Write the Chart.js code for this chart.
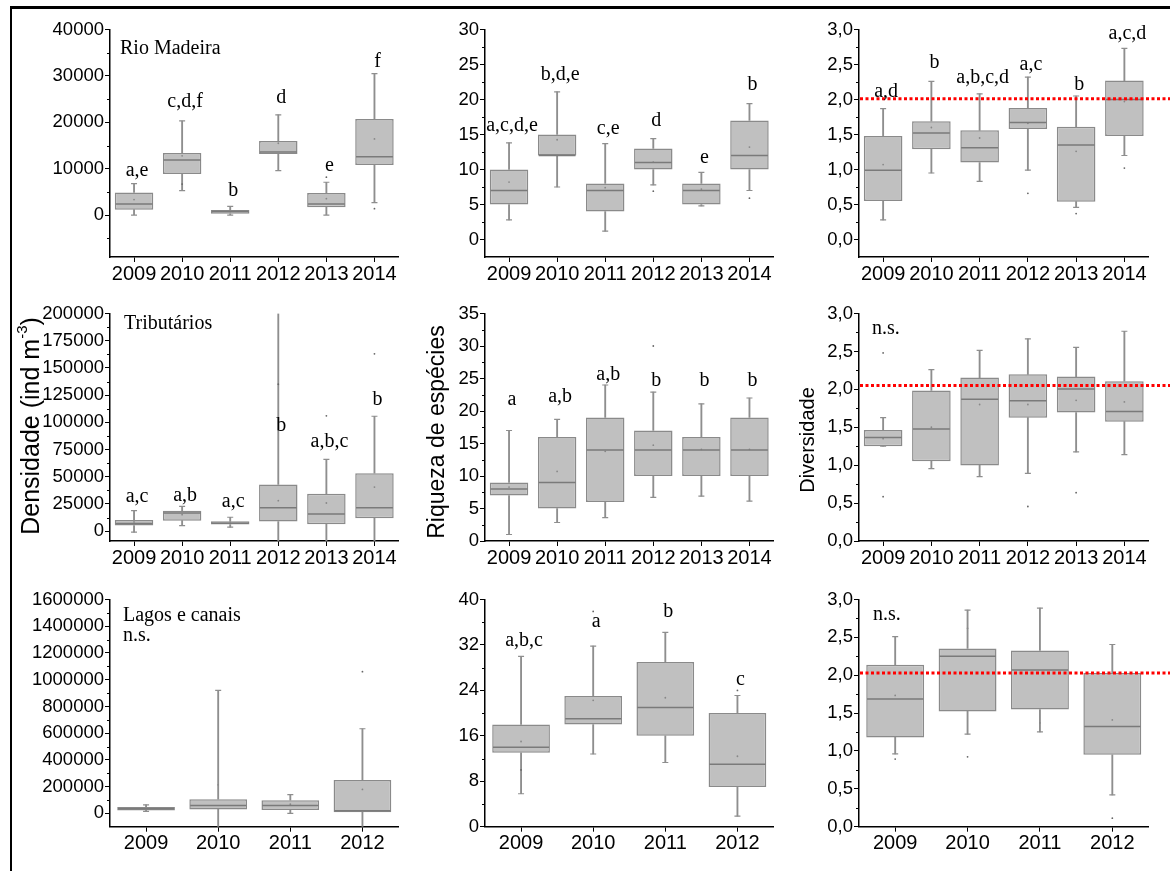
<!DOCTYPE html>
<html><head><meta charset="utf-8">
<script src="https://cdn.jsdelivr.net/npm/chart.js@4.4.0/dist/chart.umd.min.js"></script>
<style>
html,body{margin:0;padding:0;background:#fff;}
#wrap{position:relative;width:1170px;height:871px;overflow:hidden;background:#fff;}
#frame{position:absolute;left:10px;top:6px;width:1200px;height:900px;border-top:3px solid #000;border-left:2px solid #000;}
canvas{position:absolute;}
</style></head><body><div id="wrap"><div id="frame"></div></div>
<script>
// ---------- categories ----------
const years6 = ['2009','2010','2011','2012','2013','2014'];
const years4 = ['2009','2010','2011','2012'];

// ---------- Rio Madeira: densidade ----------
const rmDensQ1  = [1200, 8900, 300, 13200, 1700, 10800];
const rmDensQ3  = [4900, 13400, 1100, 16000, 4800, 20700];
const rmDensMed = [2400, 11900, 800, 13600, 2400, 12600];
const rmDensLo  = [0, 5300, 0, 9600, 0, 2700];
const rmDensHi  = [6800, 20300, 1900, 21600, 7100, 30500];
const rmDensMean = [3360, 12790, 800, 15500, 3570, 16430];
const rmDensOut = [{x:'2010',y:6700},{x:'2013',y:8200},{x:'2014',y:1400}];
const rmDensLetters = ['a,e','c,d,f','b','d','e','f'];
const rmDensLetterY = [8430, 23360, 4070, 24070, 9500, 32000];
const rmDensTicks = [0, 10000, 20000, 30000, 40000];
const rmDensMinor = [-5000, 5000, 15000, 25000, 35000];

// ---------- Rio Madeira: riqueza ----------
const rmRiqQ1  = [5, 12, 4, 10, 5, 10];
const rmRiqQ3  = [10, 15, 8, 13, 8, 17];
const rmRiqMed = [7, 12, 7, 11, 7, 12];
const rmRiqLo  = [2.8, 7.5, 1.2, 7.8, 4.8, 7];
const rmRiqHi  = [13.8, 21.1, 13.7, 14.4, 9.6, 19.4];
const rmRiqMean = [8.2, 14.25, 7.4, 11.05, 7.2, 13.2];
const rmRiqOut = [{x:'2012',y:6.9},{x:'2014',y:5.9}];
const rmRiqLetters = ['a,c,d,e','b,d,e','c,e','d','e','b'];
const rmRiqLetterY = [15.5, 22.8, 15.1, 16.2, 10.95, 21.3];
const rmRiqTicks = [0, 5, 10, 15, 20, 25, 30];
const rmRiqMinor = [2.5, 7.5, 12.5, 17.5, 22.5, 27.5];

// ---------- Rio Madeira: diversidade ----------
const rmDivQ1  = [0.55, 1.29, 1.10, 1.58, 0.54, 1.48];
const rmDivQ3  = [1.48, 1.69, 1.56, 1.88, 1.61, 2.27];
const rmDivMed = [0.99, 1.52, 1.31, 1.67, 1.35, 2.00];
const rmDivLo  = [0.28, 0.95, 0.83, 0.99, 0.46, 1.20];
const rmDivHi  = [1.87, 2.26, 2.08, 2.32, 2.05, 2.73];
const rmDivMean = [1.07, 1.60, 1.45, 1.66, 1.26, 1.97];
const rmDivOut = [{x:'2012',y:0.66},{x:'2013',y:0.37},{x:'2014',y:1.02}];
const rmDivLetters = ['a,d','b','a,b,c,d','a,c','b','a,c,d'];
const rmDivLetterY = [2.035, 2.45, 2.233, 2.42, 2.13, 2.86];
const rmDivRef = 2.01;

// ---------- Tributários: densidade ----------
const trDensQ1  = [5200, 9700, 6100, 8800, 6400, 11900];
const trDensQ3  = [10400, 18900, 9100, 42900, 34400, 53300];
const trDensMed = [7000, 16700, 7300, 21600, 15800, 21600];
const trDensLo  = [-900, 5200, 3700, -9000, -9000, -9000];
const trDensHi  = [18900, 22800, 12800, 200000, 66000, 105600];
const trDensMean = [8500, 15200, 7500, 28000, 25900, 40500];
const trDensOut = [{x:'2012',y:135000},{x:'2013',y:106000},{x:'2014',y:163000}];
const trDensLetters = ['a,c','a,b','a,c','b','a,b,c','b'];
const trDensLetterY = [27100, 28000, 22500, 91900, 77300, 115700];
const trDensTicks = [0, 25000, 50000, 75000, 100000, 125000, 150000, 175000, 200000];
const trDensMinor = [12500, 37500, 62500, 87500, 112500, 137500, 162500, 187500];

// ---------- Tributários: riqueza ----------
const trRiqQ1  = [7, 5, 6, 10, 10, 10];
const trRiqQ3  = [9, 16, 19, 17, 16, 19];
const trRiqMed = [8, 9, 14, 14, 14, 14];
const trRiqLo  = [1.0, 2.85, 3.6, 6.7, 6.9, 6.15];
const trRiqHi  = [17, 18.7, 24, 22.9, 21.1, 22];
const trRiqMean = [8.3, 10.7, 13.8, 14.75, 14.1, 14.1];
const trRiqOut = [{x:'2012',y:30}];
const trRiqLetters = ['a','a,b','a,b','b','b','b'];
const trRiqLetterY = [21.0, 21.4, 24.8, 23.9, 23.9, 23.9];
const trRiqTicks = [0, 5, 10, 15, 20, 25, 30, 35];
const trRiqMinor = [2.5, 7.5, 12.5, 17.5, 22.5, 27.5, 32.5];

// ---------- Tributários: diversidade ----------
const trDivQ1  = [1.25, 1.053, 0.997, 1.626, 1.695, 1.574];
const trDivQ3  = [1.465, 1.985, 2.155, 2.198, 2.168, 2.107];
const trDivMed = [1.365, 1.478, 1.868, 1.851, 2.003, 1.708];
const trDivLo  = [1.25, 0.954, 0.85, 0.893, 1.175, 1.14];
const trDivHi  = [1.626, 2.26, 2.514, 2.666, 2.553, 2.766];
const trDivMean = [1.35, 1.50, 1.80, 1.80, 1.855, 1.834];
const trDivOut = [{x:'2009',y:0.585},{x:'2009',y:2.48},{x:'2012',y:0.455},{x:'2013',y:0.637}];
const trDivRef = 2.05;

// ---------- Lagos e canais: densidade ----------
const lcDensQ1  = [22000, 29400, 24500, 7400];
const lcDensQ3  = [46600, 105500, 98200, 250000];
const lcDensMed = [34400, 58900, 58900, 19600];
const lcDensLo  = [14700, -100000, 0, -100000];
const lcDensHi  = [63800, 920000, 140000, 633000];
const lcDensMean = [35000, 213000, 68700, 179000];
const lcDensOut = [{x:'2012',y:1060000}];
const lcDensTicks = [0, 200000, 400000, 600000, 800000, 1000000, 1200000, 1400000, 1600000];
const lcDensMinor = [100000, 300000, 500000, 700000, 900000, 1100000, 1300000, 1500000];

// ---------- Lagos e canais: riqueza ----------
const lcRiqQ1  = [13, 18, 16, 7];
const lcRiqQ3  = [18, 23, 29, 20];
const lcRiqMed = [14, 19, 21, 11];
const lcRiqLo  = [5.8, 12.8, 11.3, 1.85];
const lcRiqHi  = [30, 31.8, 34.2, 23.1];
const lcRiqMean = [15, 22.25, 22.7, 12.4];
const lcRiqOut = [{x:'2009',y:10},{x:'2010',y:37.9},{x:'2012',y:24}];
const lcRiqLetters = ['a,b,c','a','b','c'];
const lcRiqLetterY = [31.9, 35.1, 37.0, 25.0];
const lcRiqTicks = [0, 8, 16, 24, 32, 40];
const lcRiqMinor = [4, 12, 20, 28, 36];

// ---------- Lagos e canais: diversidade ----------
const lcDivQ1  = [1.179, 1.522, 1.548, 0.949];
const lcDivQ3  = [2.137, 2.354, 2.328, 2.029];
const lcDivMed = [1.686, 2.25, 2.068, 1.322];
const lcDivLo  = [0.962, 1.223, 1.253, 0.42];
const lcDivHi  = [2.51, 2.861, 2.887, 2.406];
const lcDivMean = [1.734, 2.62, 1.37, 1.41];
const lcDivOut = [{x:'2009',y:0.893},{x:'2010',y:0.923},{x:'2012',y:0.113}];
const lcDivRef = 2.03;

const divTicks = [0, 0.5, 1.0, 1.5, 2.0, 2.5, 3.0];
const divMinor = [0.25, 0.75, 1.25, 1.75, 2.25, 2.75];

// ---------- layout ----------
const SANS = "'Liberation Sans', Arial, sans-serif";
const SERIF = "'Liberation Serif', 'Times New Roman', serif";
const cols = [{cl:12, cr:420, ax:110, ar:414},{cl:420, cr:795, ax:485, ar:789},{cl:795, cr:1170, ax:859, ar:1163}];
const rows = [{ct:8, cb:290, at:27, ab:257},{ct:292, cb:575, at:311.5, ab:541},{ct:578, cb:866, at:596, ab:826.7}];

const fmtInt = v => String(v);
const fmtDec = v => v.toFixed(1).replace('.', ',');

const panels = [
  {r:0,c:0, labels:years6, q1:rmDensQ1,q3:rmDensQ3,med:rmDensMed,lo:rmDensLo,hi:rmDensHi,mean:rmDensMean,out:rmDensOut,
   letters:rmDensLetters, letterY:rmDensLetterY, ticks:rmDensTicks, minor:rmDensMinor, min:-9000, max:40000, fmt:fmtInt,
   notes:[{t:'Rio Madeira', dx:10, dy:24.7}]},
  {r:0,c:1, labels:years6, q1:rmRiqQ1,q3:rmRiqQ3,med:rmRiqMed,lo:rmRiqLo,hi:rmRiqHi,mean:rmRiqMean,out:rmRiqOut,
   letters:rmRiqLetters, letterY:rmRiqLetterY, ticks:rmRiqTicks, minor:rmRiqMinor, min:-2.5, max:30, fmt:fmtInt, notes:[]},
  {r:0,c:2, labels:years6, q1:rmDivQ1,q3:rmDivQ3,med:rmDivMed,lo:rmDivLo,hi:rmDivHi,mean:rmDivMean,out:rmDivOut,
   letters:rmDivLetters, letterY:rmDivLetterY, ticks:divTicks, minor:divMinor, min:-0.25, max:3, fmt:fmtDec, ref:rmDivRef, notes:[]},
  {r:1,c:0, labels:years6, q1:trDensQ1,q3:trDensQ3,med:trDensMed,lo:trDensLo,hi:trDensHi,mean:trDensMean,out:trDensOut,
   letters:trDensLetters, letterY:trDensLetterY, ticks:trDensTicks, minor:trDensMinor, min:-9000, max:200000, fmt:fmtInt,
   notes:[{t:'Tributários', dx:14, dy:15.8}], title:{main:'Densidade (ind m', sup:'-3', end:')', x:32, y:426, size:25}},
  {r:1,c:1, labels:years6, q1:trRiqQ1,q3:trRiqQ3,med:trRiqMed,lo:trRiqLo,hi:trRiqHi,mean:trRiqMean,out:trRiqOut,
   letters:trRiqLetters, letterY:trRiqLetterY, ticks:trRiqTicks, minor:trRiqMinor, min:0, max:35, fmt:fmtInt,
   notes:[], title:{main:'Riqueza de espécies', x:438, y:432, size:23}},
  {r:1,c:2, labels:years6, q1:trDivQ1,q3:trDivQ3,med:trDivMed,lo:trDivLo,hi:trDivHi,mean:trDivMean,out:trDivOut,
   letters:[], letterY:[], ticks:divTicks, minor:divMinor, min:0, max:3, fmt:fmtDec, ref:trDivRef,
   notes:[{t:'n.s.', dx:13, dy:20.5}], title:{main:'Diversidade', x:808, y:440, size:20}},
  {r:2,c:0, labels:years4, q1:lcDensQ1,q3:lcDensQ3,med:lcDensMed,lo:lcDensLo,hi:lcDensHi,mean:lcDensMean,out:lcDensOut,
   letters:[], letterY:[], ticks:lcDensTicks, minor:lcDensMinor, min:-100000, max:1600000, fmt:fmtInt,
   notes:[{t:'Lagos e canais', dx:13, dy:21}, {t:'n.s.', dx:13, dy:41}]},
  {r:2,c:1, labels:years4, q1:lcRiqQ1,q3:lcRiqQ3,med:lcRiqMed,lo:lcRiqLo,hi:lcRiqHi,mean:lcRiqMean,out:lcRiqOut,
   letters:lcRiqLetters, letterY:lcRiqLetterY, ticks:lcRiqTicks, minor:lcRiqMinor, min:0, max:40, fmt:fmtInt, notes:[]},
  {r:2,c:2, labels:years4, q1:lcDivQ1,q3:lcDivQ3,med:lcDivMed,lo:lcDivLo,hi:lcDivHi,mean:lcDivMean,out:lcDivOut,
   letters:[], letterY:[], ticks:divTicks, minor:divMinor, min:0, max:3, fmt:fmtDec, ref:lcDivRef,
   notes:[{t:'n.s.', dx:14, dy:20}]}
];

Chart.defaults.animation = false;
Chart.defaults.font.family = SANS;

const BOX_FILL = '#c0c0c0', BOX_LINE = '#8a8a8a', WHISK = '#8e8e8e', MED = '#7a7a7a';
const LETTER_SHIFT = 3;

const wrap = document.getElementById('wrap');

panels.forEach(p => {
  const col = cols[p.c], row = rows[p.r];
  const cv = document.createElement('canvas');
  const W = col.cr - col.cl, H = row.cb - row.ct;
  cv.width = W; cv.height = H;
  cv.style.left = col.cl + 'px'; cv.style.top = row.ct + 'px';
  cv.style.width = W + 'px'; cv.style.height = H + 'px';
  wrap.appendChild(cv);
  const yW = col.ax - col.cl;
  const xH = row.cb - row.ab;
  const halfBox = ctx => {
    const ca = ctx.chart.chartArea;
    return ca ? (ca.width / p.labels.length * 0.8) / 2 - 0.8 : 20;
  };
  const capOf = (arr) => arr.map(v => (v <= p.min || v >= p.max) ? null : v);

  const extras = {
    id: 'extras',
    afterDatasetsDraw(chart) {
      const {ctx, chartArea, scales:{x, y}} = chart;
      ctx.save();
      if (p.ref != null) {
        const py = y.getPixelForValue(p.ref);
        ctx.strokeStyle = '#ff0000'; ctx.lineWidth = 3; ctx.setLineDash([3, 2.5]);
        ctx.beginPath(); ctx.moveTo(chartArea.left + 1, py); ctx.lineTo(chart.width, py); ctx.stroke();
        ctx.setLineDash([]);
      }
      ctx.restore();
    },
    afterDraw(chart) {
      const {ctx, chartArea, scales:{x, y}} = chart;
      ctx.save();
      // minor ticks
      ctx.strokeStyle = '#000'; ctx.lineWidth = 1;
      p.minor.forEach(v => {
        if (v < y.min || v > y.max) return;
        const py = Math.round(y.getPixelForValue(v)) + 0.5;
        ctx.beginPath(); ctx.moveTo(chartArea.left - 3, py); ctx.lineTo(chartArea.left, py); ctx.stroke();
      });
      // significance letters
      ctx.fillStyle = '#000';
      ctx.font = '20px ' + SERIF;
      ctx.textAlign = 'center'; ctx.textBaseline = 'alphabetic';
      p.letters.forEach((t, i) => {
        ctx.fillText(t, x.getPixelForValue(i) + LETTER_SHIFT, y.getPixelForValue(p.letterY[i]));
      });
      // notes
      ctx.textAlign = 'left';
      p.notes.forEach(n => ctx.fillText(n.t, chartArea.left + n.dx, chartArea.top + n.dy));
      // axis title
      if (p.title) {
        const t = p.title;
        ctx.translate(t.x - col.cl, t.y - row.ct);
        ctx.rotate(-Math.PI / 2);
        ctx.textBaseline = 'middle'; ctx.textAlign = 'left';
        const mf = t.size + 'px ' + SANS, sf = Math.round(t.size * 0.6) + 'px ' + SANS;
        ctx.font = mf; const w1 = ctx.measureText(t.main).width;
        let w2 = 0, w3 = 0;
        if (t.sup) { ctx.font = sf; w2 = ctx.measureText(t.sup).width; ctx.font = mf; w3 = ctx.measureText(t.end).width; }
        let sx = -(w1 + w2 + w3) / 2;
        ctx.font = mf; ctx.fillText(t.main, sx, 0);
        if (t.sup) {
          ctx.font = sf; ctx.fillText(t.sup, sx + w1, -t.size * 0.35);
          ctx.font = mf; ctx.fillText(t.end, sx + w1 + w2, 0);
        }
      }
      ctx.restore();
    }
  };

  new Chart(cv, {
    type: 'bar',
    data: {
      labels: p.labels,
      datasets: [
        {type:'line', label:'median', data:p.med, showLine:false, pointStyle:'line', pointRadius:halfBox,
         pointBorderColor:MED, pointBorderWidth:1.5, order:0},
        {type:'line', label:'mean', data:p.mean, showLine:false, pointStyle:'circle', pointRadius:0.9,
         pointBackgroundColor:'#888', pointBorderColor:'#888', pointBorderWidth:0, order:0},
        {type:'line', label:'outliers', data:p.out, showLine:false, pointStyle:'circle', pointRadius:0.9,
         pointBackgroundColor:'#666', pointBorderColor:'#666', pointBorderWidth:0, order:0},
        {type:'line', label:'capLo', data:capOf(p.lo), showLine:false, pointStyle:'line', pointRadius:3,
         pointBorderColor:WHISK, pointBorderWidth:1.2, order:0},
        {type:'line', label:'capHi', data:capOf(p.hi), showLine:false, pointStyle:'line', pointRadius:3,
         pointBorderColor:WHISK, pointBorderWidth:1.2, order:0},
        {type:'bar', label:'box', data:p.q1.map((v, i) => [v, p.q3[i]]), grouped:false,
         barPercentage:0.8, categoryPercentage:1, backgroundColor:BOX_FILL, borderColor:BOX_LINE,
         borderWidth:1.5, borderSkipped:false, order:1},
        {type:'bar', label:'whiskerLo', data:p.lo.map((v, i) => [v, p.q1[i]]), grouped:false,
         barThickness:1.2, backgroundColor:WHISK, borderWidth:0, order:2},
        {type:'bar', label:'whiskerHi', data:p.q3.map((v, i) => [v, p.hi[i]]), grouped:false,
         barThickness:1.2, backgroundColor:WHISK, borderWidth:0, order:2}
      ]
    },
    options: {
      responsive:false, maintainAspectRatio:false, animation:false,
      layout:{padding:{left:0, top:row.at - row.ct, right:col.cr - col.ar, bottom:0}},
      plugins:{legend:{display:false}, tooltip:{enabled:false}, title:{display:false}},
      scales:{
        x:{type:'category', offset:true,
           grid:{display:true, drawOnChartArea:false, drawTicks:true, tickLength:5, color:'#000', offset:false, lineWidth:1},
           border:{display:true, color:'#000', width:1.5},
           ticks:{color:'#000', font:{size:20, family:SANS}, padding:0, maxRotation:0, autoSkip:false},
           afterFit: s => { s.height = xH; }},
        y:{type:'linear', min:p.min, max:p.max,
           afterBuildTicks: s => { s.ticks = p.ticks.map(v => ({value:v})); },
           grid:{display:true, drawOnChartArea:false, drawTicks:true, tickLength:5, color:'#000', lineWidth:1},
           border:{display:true, color:'#000', width:1.5},
           ticks:{color:'#000', font:{size:18.5, family:SANS}, padding:1, callback: v => p.fmt(v)},
           afterFit: s => { s.width = yW; }}
      }
    },
    plugins:[extras]
  });
});
</script></body></html>
